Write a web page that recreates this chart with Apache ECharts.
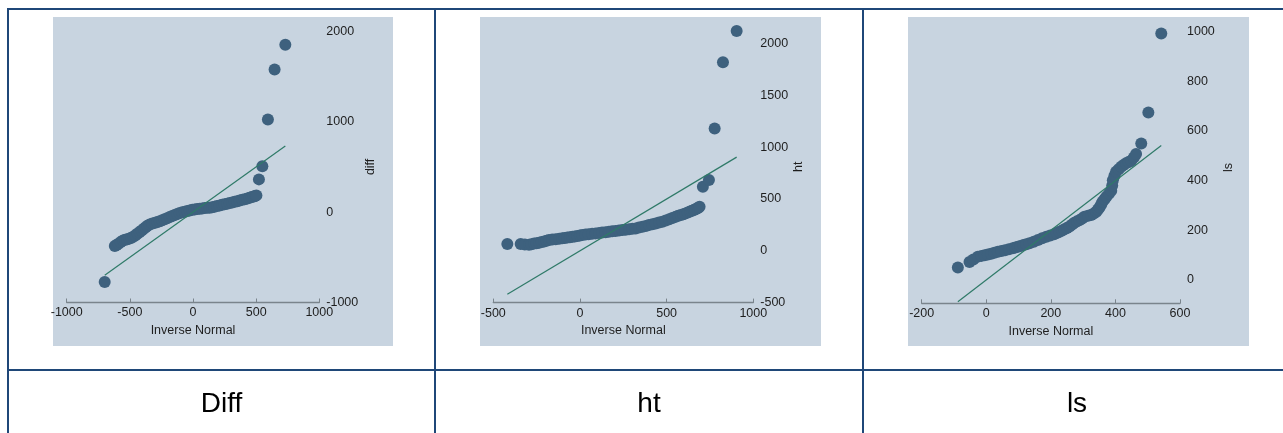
<!DOCTYPE html>
<html>
<head>
<meta charset="utf-8">
<script src="https://cdn.jsdelivr.net/npm/echarts@6/dist/echarts.min.js"></script>
<style>
html, body { margin: 0; padding: 0; background: #ffffff; }
#chart { width: 1283px; height: 433px; }
</style>
</head>
<body>
<div id="chart"></div>
<script>
// Normal quantile plots: sorted values of each variable against the inverse normal
const variableNames = ['diff', 'ht', 'ls'];
const cellLabels = ['Diff', 'ht', 'ls'];
const xAxisTitle = 'Inverse Normal';

// [inverse normal, observed value]
const diffPoints = [
  [-699, -774],
  [-619, -376], [-605, -365], [-590, -350], [-572, -330], [-554, -313], [-537, -305],
  [-520, -300], [-503, -292], [-487, -283], [-470, -270], [-455, -255], [-438, -238],
  [-422, -221], [-406, -203], [-390, -185], [-375, -168], [-360, -150], [-343, -136],
  [-322, -127], [-300, -118], [-282, -109], [-263, -100], [-244, -90], [-225, -80],
  [-205, -68], [-184, -55], [-165, -43], [-145, -32], [-125, -21], [-105, -11],
  [-85, -3], [-65, 5], [-45, 12], [-26, 19], [-6, 25], [13, 30], [33, 34], [53, 38],
  [72, 41], [92, 44], [112, 47], [132, 49], [151, 54], [170, 60], [190, 67], [211, 74],
  [230, 80], [250, 86], [270, 93], [290, 100], [310, 107], [330, 114], [350, 121],
  [369, 129], [390, 136], [410, 143], [430, 151], [448, 159], [465, 166], [480, 172],
  [492, 178], [502, 185],
  [522, 362], [549, 506], [593, 1025], [646, 1578], [731, 1852]
];
const htPoints = [
  [-419, 65],
  [-342, 65], [-318, 60], [-294, 58], [-280, 64], [-265, 70], [-250, 73], [-236, 77],
  [-221, 84], [-207, 90], [-193, 97], [-179, 103], [-160, 108], [-140, 112], [-120, 116],
  [-102, 120], [-88, 124], [-73, 128], [-58, 131], [-44, 135], [-30, 139], [-15, 143],
  [0, 148], [13, 152], [32, 156], [50, 160], [70, 164], [90, 168], [110, 172], [128, 176],
  [148, 180], [167, 183], [186, 188], [205, 192], [225, 196], [244, 200], [263, 204],
  [283, 208], [302, 212], [321, 216], [340, 224], [360, 232], [380, 240], [398, 248],
  [418, 256], [437, 264], [456, 272], [475, 280], [495, 292], [515, 304], [533, 316],
  [552, 328], [567, 337], [582, 345], [596, 353], [609, 361], [622, 370], [635, 378],
  [646, 386], [657, 393], [666, 400], [675, 408], [683, 416], [690, 425],
  [709, 618], [744, 682], [777, 1181], [825, 1819], [904, 2121]
];
const lsPoints = [
  [-88, 50],
  [-52, 72], [-40, 82], [-26, 94], [-15, 97], [-5, 100], [5, 103], [15, 106], [25, 110],
  [36, 114], [47, 117], [58, 120], [70, 124], [82, 128], [90, 131], [98, 134], [106, 137],
  [115, 141], [124, 144], [134, 148], [147, 154], [160, 161], [173, 168], [186, 174],
  [198, 179], [210, 184], [218, 189], [227, 194], [235, 199], [242, 204], [250, 209],
  [258, 215], [266, 223], [273, 230], [281, 236], [289, 241], [297, 248], [304, 255],
  [315, 259], [325, 262], [333, 268], [341, 275], [346, 284], [351, 293], [356, 304],
  [360, 315], [366, 325], [372, 335], [380, 347], [387, 359], [390, 380], [392, 402],
  [397, 420], [402, 436], [410, 446], [418, 456], [425, 463], [433, 470], [441, 475],
  [449, 480], [457, 493], [464, 507],
  [480, 550], [502, 675], [542, 993]
];

// Axis scales
const xTicks = [
  [-1000, -500, 0, 500, 1000],
  [-500, 0, 500, 1000],
  [-200, 0, 200, 400, 600]
];
const yTicks = [
  [-1000, 0, 1000, 2000],
  [-500, 0, 500, 1000, 1500, 2000],
  [0, 200, 400, 600, 800, 1000]
];
const yExtents = [
  [-1000, 2000],
  [-500, 2121],
  [-94, 1000]
];

const allPoints = [diffPoints, htPoints, lsPoints];

// Layout of the three plot panels (pixels)
const panelBoxes = [
  { x: 53, y: 17, w: 340, h: 329 },
  { x: 480, y: 17, w: 341, h: 329 },
  { x: 908, y: 17, w: 341, h: 329 }
];
const gridBoxes = [
  { left: 66.7, top: 31.3, width: 252.6, height: 271.2, nameGap: 45 },
  { left: 493.3, top: 31, width: 260, height: 271.6, nameGap: 39 },
  { left: 921.7, top: 31.7, width: 258.3, height: 271.6, nameGap: 42 }
];

const PANEL_BG = '#c8d4e0';
const DOT = '#3e617e';
const REF_LINE = '#2f7a68';
const AXIS = '#7a848c';
const TEXT = '#1e1e1e';
const BORDER = '#1f4778';
const FONT = 'Liberation Sans, Arial, Helvetica, sans-serif';

const plainNumber = function (v) { return String(v); };

const chart = echarts.init(document.getElementById('chart'), null, { renderer: 'canvas' });

const grids = [], xAxes = [], yAxes = [], series = [], graphics = [];

panelBoxes.forEach(function (b) {
  graphics.push({
    type: 'rect', z: -10, silent: true,
    shape: { x: b.x, y: b.y, width: b.w, height: b.h },
    style: { fill: PANEL_BG }
  });
});

// Table rules
const rules = [
  [7, 9, 1283, 9],
  [8, 8, 8, 433],
  [435, 8, 435, 433],
  [863, 8, 863, 433],
  [7, 370, 1283, 370]
];
rules.forEach(function (r) {
  graphics.push({
    type: 'line', z: 10, silent: true,
    shape: { x1: r[0], y1: r[1], x2: r[2], y2: r[3] },
    style: { stroke: BORDER, lineWidth: 2 }
  });
});

// Captions in the lower row
const cellCenters = [221.5, 649, 1077];
cellLabels.forEach(function (t, i) {
  graphics.push({
    type: 'text', z: 10, silent: true,
    x: cellCenters[i], y: 404,
    style: { text: t, font: '28px ' + FONT, fill: '#000000', align: 'center', verticalAlign: 'middle' }
  });
});

allPoints.forEach(function (pts, i) {
  const g = gridBoxes[i];
  grids.push({ left: g.left, top: g.top, width: g.width, height: g.height, containLabel: false });
  const xt = xTicks[i];
  xAxes.push({
    type: 'value', gridIndex: i,
    min: xt[0], max: xt[xt.length - 1], interval: xt[1] - xt[0],
    name: xAxisTitle, nameLocation: 'middle', nameGap: 15,
    nameTextStyle: { color: TEXT, fontSize: 12.5, fontFamily: FONT },
    axisLine: { show: true, onZero: false, lineStyle: { color: AXIS, width: 1.3 } },
    axisTick: { show: true, inside: true, length: 4, lineStyle: { color: AXIS, width: 1 } },
    axisLabel: { color: TEXT, fontSize: 12.5, fontFamily: FONT, margin: 4, formatter: plainNumber },
    splitLine: { show: false }
  });
  const ye = yExtents[i];
  yAxes.push({
    type: 'value', gridIndex: i, position: 'right',
    min: ye[0], max: ye[1],
    name: variableNames[i], nameLocation: 'middle', nameGap: g.nameGap, nameRotate: 90,
    nameTextStyle: { color: TEXT, fontSize: 12.5, fontFamily: FONT },
    axisLine: { show: false },
    axisTick: { show: false },
    axisLabel: {
      color: TEXT, fontSize: 12.5, fontFamily: FONT, margin: 7,
      customValues: yTicks[i], formatter: plainNumber
    },
    splitLine: { show: false }
  });

  series.push({
    type: 'scatter', xAxisIndex: i, yAxisIndex: i,
    data: pts, symbol: 'circle', symbolSize: 12,
    itemStyle: { color: DOT, opacity: 1 },
    emphasis: { disabled: true }, silent: true, z: 2
  });

  // Reference line y = x across the range of the inverse normal values
  const xs = pts.map(function (p) { return p[0]; });
  const lo = Math.min.apply(null, xs), hi = Math.max.apply(null, xs);
  series.push({
    type: 'line', xAxisIndex: i, yAxisIndex: i,
    data: [[lo, lo], [hi, hi]], showSymbol: false, symbol: 'none',
    lineStyle: { color: REF_LINE, width: 1.2 },
    emphasis: { disabled: true }, silent: true, z: 3
  });
});

chart.setOption({
  animation: false,
  backgroundColor: '#ffffff',
  grid: grids,
  xAxis: xAxes,
  yAxis: yAxes,
  series: series,
  graphic: graphics
});
</script>
</body>
</html>
